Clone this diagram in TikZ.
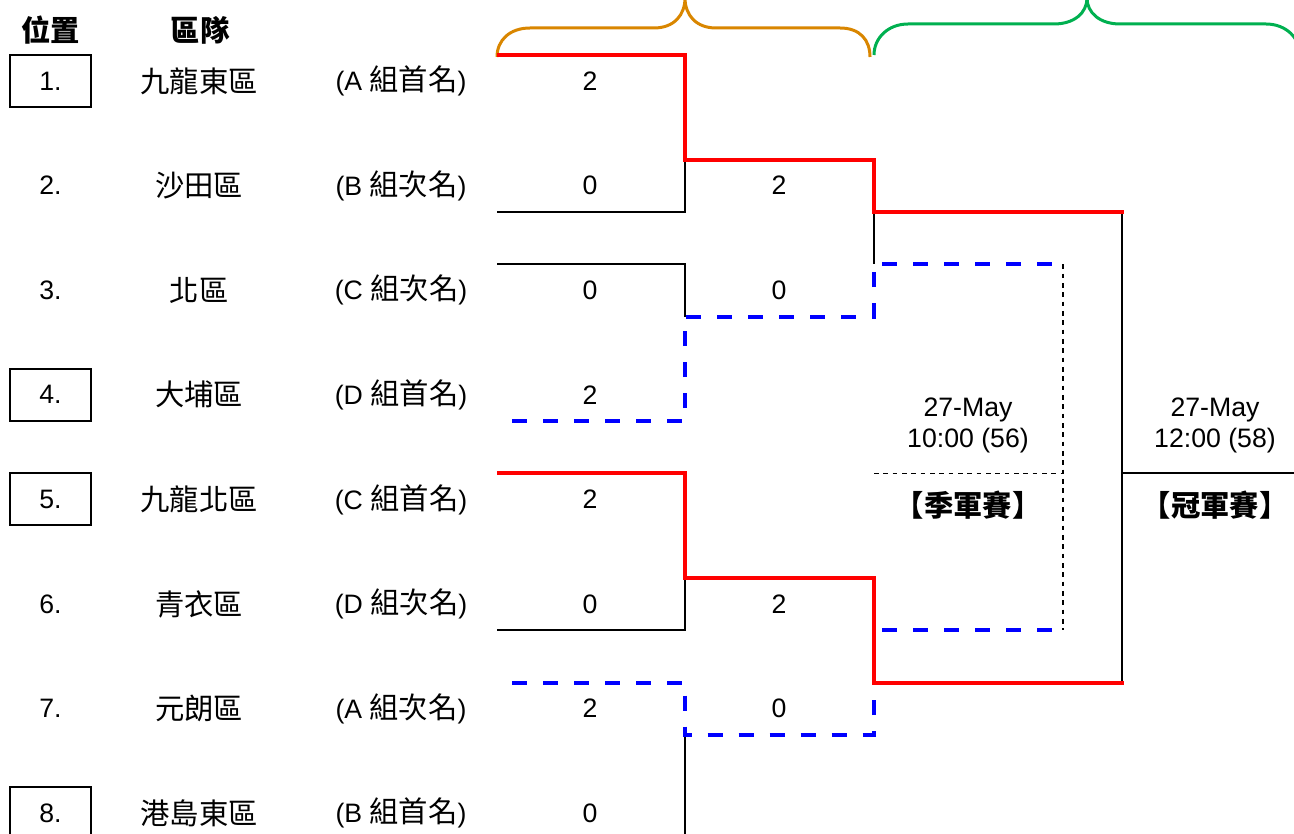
\documentclass[tikz,border=0pt]{standalone}
\usepackage{fontspec}
\setmainfont{Liberation Sans}
\newfontfamily\cjk[Scale=1.1]{Noto Sans CJK TC}
\usepackage{tikz}

\begin{document}
\begin{tikzpicture}[x=0.75pt,y=0.75pt,yscale=-1,xscale=1,
  every node/.style={font=\fontsize{20}{23.5}\selectfont},
  posbox/.style={draw,line width=1.5pt,minimum width=60.75pt,minimum height=39pt,inner sep=0pt},
  bline/.style={line width=1.5pt},
  winline/.style={color={rgb, 255:red, 255; green, 0; blue, 0 },line width=3pt},
  loseline/.style={color={rgb, 255:red, 0; green, 0; blue, 255 },line width=3pt,dash pattern=on 11.25pt off 12pt},
  dotline/.style={line width=1.2pt,dash pattern=on 3.5pt off 3.5pt},
  bracebar/.style={line width=2.25pt}]
%set diagram left start at 0, size 1294 x 834
\useasboundingbox (0,0) rectangle (1294,834);
\clip (0,0) rectangle (1294,834);

%Curve Lines (braces)
\draw [bracebar, color={rgb, 255:red, 217; green, 134; blue, 0 }] (497,57) .. controls (497,40) and (510,28) .. (530,28) -- (654,28) .. controls (674,28) and (685,15) .. (685,-2) .. controls (685,15) and (696,28) .. (716,28) -- (840,28) .. controls (860,28) and (870,40) .. (870,57) ;
\draw [bracebar, color={rgb, 255:red, 0; green, 176; blue, 80 }] (874,55) .. controls (874,38) and (888,24) .. (908,24) -- (1054,24) .. controls (1074,24) and (1087,13) .. (1087,-2) .. controls (1087,13) and (1100,24) .. (1120,24) -- (1266,24) .. controls (1286,24) and (1300,38) .. (1300,55) ;

%Straight Lines
\draw [bline] (497,211.9) -| (685,159.6) ;
\draw [bline] (874,211.9) -- (874,264.2) ;
\draw [bline] (497,264.2) -| (685,316.5) ;
\draw [bline] (497,630.3) -| (685,578) ;
\draw [bline] (685,734.9) -- (685,839.5) ;
\draw [bline] (1122,211.9) -- (1122,682.6) ;
\draw [bline] (1122,473.4) -- (1294,473.4) ;
%Dotted Lines
\draw [dotline] (1063,264.2) -- (1063,630.3) ;
\draw [dotline] (874,473.4) -- (1063,473.4) ;
%Dashed Lines
\draw [loseline] (512,421.1) -| (685,316.5) -| (874,264.2) -- (1063,264.2) ;
\draw [loseline] (512,682.6) -| (685,734.9) -| (874,630.3) -- (1063,630.3) ;
%Red Lines
\draw [winline] (497,55) -| (685,159.6) -| (874,211.9) -- (1124,211.9) ;
\draw [winline] (497,473.4) -| (685,578) -| (874,682.6) -- (1124,682.6) ;

% Text Node
\draw (51,30) node (hpos) {\cjk\bfseries 位置};
% Text Node
\draw (200,30) node (hteam) {\cjk\bfseries 區隊};

% Text Node
\draw (50.5,81) node (p1) [posbox] {1.};
\draw (50.5,185.6) node (p2) {2.};
\draw (50.5,290.2) node (p3) {3.};
\draw (50.5,394.8) node (p4) [posbox] {4.};
\draw (50.5,499.4) node (p5) [posbox] {5.};
\draw (50.5,604) node (p6) {6.};
\draw (50.5,708.6) node (p7) {7.};
\draw (50.5,813.2) node (p8) [posbox] {8.};

% Text Node
\draw (199,81) node (t1) {\cjk 九龍東區};
\draw (199,185.6) node (t2) {\cjk 沙田區};
\draw (199,290.2) node (t3) {\cjk 北區};
\draw (199,394.8) node (t4) {\cjk 大埔區};
\draw (199,499.4) node (t5) {\cjk 九龍北區};
\draw (199,604) node (t6) {\cjk 青衣區};
\draw (199,708.6) node (t7) {\cjk 元朗區};
\draw (199,813.2) node (t8) {\cjk 港島東區};

% Text Node
\draw (401,81) node (g1) {(A {\cjk 組首名})};
\draw (401,185.6) node (g2) {(B {\cjk 組次名})};
\draw (401,290.2) node (g3) {(C {\cjk 組次名})};
\draw (401,394.8) node (g4) {(D {\cjk 組首名})};
\draw (401,499.4) node (g5) {(C {\cjk 組首名})};
\draw (401,604) node (g6) {(D {\cjk 組次名})};
\draw (401,708.6) node (g7) {(A {\cjk 組次名})};
\draw (401,813.2) node (g8) {(B {\cjk 組首名})};

% Text Node
\draw (590,81) node (s1) {2};
\draw (590,185.6) node (s2) {0};
\draw (590,290.2) node (s3) {0};
\draw (590,394.8) node (s4) {2};
\draw (590,499.4) node (s5) {2};
\draw (590,604) node (s6) {0};
\draw (590,708.6) node (s7) {2};
\draw (590,813.2) node (s8) {0};

% Text Node
\draw (779,185.6) node (r1) {2};
\draw (779,290.2) node (r2) {0};
\draw (779,604) node (r3) {2};
\draw (779,708.6) node (r4) {0};

% Text Node
\draw (968,425.5) node (d3) [align=center] {27-May\\10:00 (56)};
\draw (968,505) node (m3) {\cjk\bfseries 【季軍賽】};
\draw (1215,425.5) node (d1) [align=center] {27-May\\12:00 (58)};
\draw (1215,505) node (m1) {\cjk\bfseries 【冠軍賽】};

\end{tikzpicture}
\end{document}
